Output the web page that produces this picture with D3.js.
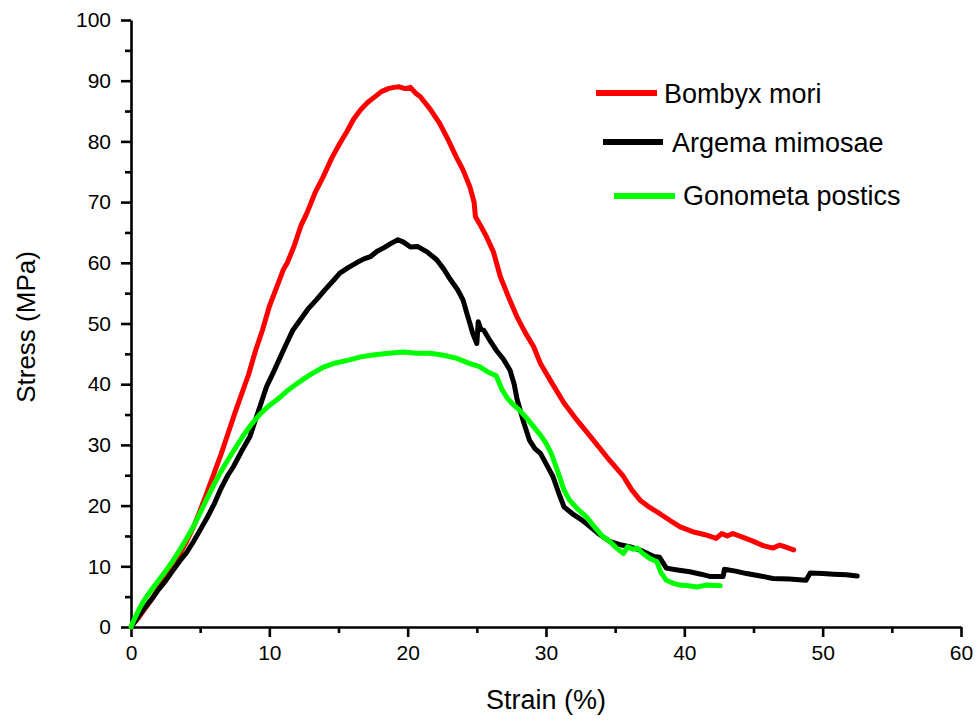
<!DOCTYPE html>
<html>
<head>
<meta charset="utf-8">
<script src="https://cdn.jsdelivr.net/npm/d3@7"></script>
<style>
  body { margin: 0; background: #fff; }
  svg { display: block; font-family: "Liberation Sans", Arial, sans-serif; }
</style>
</head>
<body>
<div id="vizContainer"></div>
<script>
// strain (%), stress (MPa)
const bombyxMori = [
  [0,0],[0.5,1.4],[1,3.0],[1.5,4.6],[2,6.4],[2.5,8.1],[3,10.0],[3.5,12.0],[4,14.0],[4.5,16.4],
  [5,19.2],[5.5,22.2],[6,25.3],[6.5,28.4],[7,31.8],[7.5,35.2],[8,38.4],[8.5,41.6],[9,45.5],[9.5,48.9],
  [10,52.8],[10.5,55.8],[11,58.8],[11.3,60.0],[11.8,62.8],[12.3,66.2],[12.7,68.1],[13.3,71.5],[13.9,74.2],
  [14.5,77.2],[15.1,79.7],[15.6,81.6],[16.1,83.7],[16.6,85.2],[17.1,86.4],[17.6,87.3],[18.1,88.2],
  [18.6,88.7],[19.0,88.9],[19.4,89.0],[19.8,88.7],[20.2,88.9],[20.6,87.9],[20.9,87.4],[21.6,85.4],
  [22.3,83.0],[22.9,80.4],[23.5,77.5],[24.0,75.3],[24.5,72.5],[24.8,70.0],[24.9,67.6],[25.3,66.0],
  [25.7,64.3],[26.2,61.8],[26.7,57.7],[27.3,54.3],[27.9,51.1],[28.5,48.5],[29.1,46.2],[29.6,43.4],
  [30.4,40.3],[31.3,36.9],[32.2,34.2],[33.2,31.4],[34.4,28.0],[35.6,24.8],[36.2,22.6],[36.8,20.9],
  [37.5,19.7],[38.2,18.7],[39.0,17.5],[39.7,16.5],[40.6,15.7],[41.5,15.2],[42.3,14.6],[42.7,15.4],
  [43.1,15.0],[43.5,15.4],[44.2,14.8],[45.0,14.1],[45.7,13.4],[46.4,13.0],[46.9,13.5],[47.4,13.1],[47.9,12.7]
];

const argemaMimosae = [
  [0,0],[0.5,1.6],[1,3.2],[1.5,4.6],[2,6.2],[2.5,7.6],[3,9.2],[3.5,10.8],[4,12.2],[4.5,14.0],
  [5,16.0],[5.5,18.0],[6,20.2],[6.5,22.8],[7,25.0],[7.4,26.4],[8,29.0],[8.6,31.4],[9.2,35.5],[9.8,39.6],
  [10.3,42.0],[10.8,44.5],[11.2,46.5],[11.7,48.9],[12.2,50.5],[12.8,52.4],[13.4,53.9],[14.0,55.5],
  [14.6,57.0],[15.1,58.3],[15.7,59.2],[16.3,60.0],[16.8,60.6],[17.3,61.0],[17.8,61.9],[18.3,62.5],
  [18.8,63.2],[19.3,63.8],[19.7,63.4],[20.2,62.6],[20.7,62.7],[21.4,61.8],[22.1,60.5],[22.6,59.0],
  [23.1,57.2],[23.6,55.6],[24.0,53.9],[24.3,51.5],[24.5,50.0],[24.7,48.4],[25.0,46.7],[25.1,50.3],
  [25.3,49.0],[25.5,48.9],[26.0,47.0],[26.4,45.6],[26.9,44.2],[27.4,42.3],[27.7,40.0],[27.9,37.6],
  [28.4,33.6],[28.8,30.8],[29.2,29.4],[29.6,28.6],[30.1,26.5],[30.5,24.8],[30.9,22.2],[31.3,19.8],
  [32.0,18.5],[32.6,17.6],[33.2,16.5],[33.9,15.2],[34.6,14.1],[35.3,13.6],[36.1,13.2],[37.0,12.5],
  [37.8,11.6],[38.2,11.5],[38.7,9.7],[39.5,9.4],[40.4,9.1],[41.2,8.7],[41.9,8.3],[42.8,8.3],[42.9,9.5],
  [43.7,9.2],[44.5,8.8],[45.5,8.4],[46.4,8.0],[47.6,7.9],[48.8,7.7],[49.1,8.9],[50.0,8.8],[50.8,8.7],
  [51.7,8.6],[52.5,8.4]
];

const gonometaPostics = [
  [0,0],[0.3,1.6],[0.6,3.0],[1,4.6],[1.5,6.2],[2,7.7],[2.5,9.2],[3,10.8],[3.5,12.6],[4,14.5],
  [4.5,16.5],[5,18.8],[5.5,21.2],[6,23.5],[6.5,25.6],[7,27.5],[7.6,29.7],[8.2,31.8],[8.7,33.4],
  [9.3,35.0],[10.0,36.5],[10.8,37.9],[11.4,39.1],[12.0,40.1],[12.9,41.5],[13.9,42.8],[14.8,43.5],
  [15.8,44.0],[16.6,44.5],[17.5,44.8],[18.6,45.1],[19.7,45.3],[20.6,45.1],[21.6,45.1],[22.5,44.8],
  [23.5,44.3],[24.5,43.4],[25.2,42.9],[25.8,42.0],[26.4,41.4],[26.8,39.2],[27.2,37.7],[27.6,36.7],
  [28.1,35.7],[28.6,34.4],[29.1,33.0],[29.6,31.6],[30.0,30.3],[30.4,28.5],[30.7,26.6],[31.0,24.6],
  [31.3,22.6],[31.7,20.9],[32.3,19.4],[32.9,18.2],[33.5,16.5],[34.1,14.9],[34.6,14.1],[35.1,13.0],
  [35.6,12.1],[35.9,13.2],[36.3,12.8],[36.6,13.0],[37.0,12.1],[37.5,11.3],[38.0,10.8],[38.3,9.0],
  [38.7,7.7],[39.2,7.2],[39.7,6.9],[40.3,6.8],[40.9,6.6],[41.6,6.9],[42.6,6.8]
];

const seriesNames = ["Bombyx mori", "Argema mimosae", "Gonometa postics"];
const seriesColors = ["#ff0000", "#000000", "#00ff00"];
const xTicks = [0, 10, 20, 30, 40, 50, 60];
const yTicks = [0, 10, 20, 30, 40, 50, 60, 70, 80, 90, 100];

const width = 978;
const height = 722;

const svg = d3.select("#vizContainer")
  .append("svg")
  .attr("width", width)
  .attr("height", height);

const x = d3.scaleLinear().domain([0, 60]).range([131, 961]);
const y = d3.scaleLinear().domain([0, 100]).range([627, 20]);

// minor ticks first, then the labelled major axis on top
svg.append("g")
  .attr("transform", "translate(0,627)")
  .call(d3.axisBottom(x).tickValues(d3.range(5, 60, 10)).tickSize(6).tickFormat(""))
  .call(g => g.select(".domain").remove());
svg.append("g")
  .attr("transform", "translate(131,0)")
  .call(d3.axisLeft(y).tickValues(d3.range(5, 100, 10)).tickSize(6).tickFormat(""))
  .call(g => g.select(".domain").remove());

const xAxis = svg.append("g")
  .attr("transform", "translate(0,627)")
  .call(d3.axisBottom(x).tickValues(xTicks).tickSize(10).tickSizeOuter(0).tickPadding(8));
const yAxis = svg.append("g")
  .attr("transform", "translate(131,0)")
  .call(d3.axisLeft(y).tickValues(yTicks).tickSize(10).tickSizeOuter(0).tickPadding(10));

svg.selectAll(".tick line, .domain").attr("stroke", "#000").attr("stroke-width", 2.6);
svg.selectAll(".tick text")
  .attr("font-size", 21)
  .attr("font-family", "'Liberation Sans', Arial, sans-serif")
  .attr("fill", "#000");

svg.append("text")
  .attr("x", 546)
  .attr("y", 709)
  .attr("text-anchor", "middle")
  .attr("font-size", 27)
  .text("Strain (%)");

svg.append("text")
  .attr("transform", "translate(35,327) rotate(-90)")
  .attr("text-anchor", "middle")
  .attr("font-size", 26)
  .text("Stress (MPa)");

const line = d3.line()
  .x(d => x(d[0]))
  .y(d => y(d[1]));

const allSeries = [bombyxMori, argemaMimosae, gonometaPostics];

svg.selectAll(".curve")
  .data(allSeries)
  .enter()
  .append("path")
  .attr("class", "curve")
  .attr("d", line)
  .attr("fill", "none")
  .attr("stroke", (d, i) => seriesColors[i])
  .attr("stroke-width", 5)
  .attr("stroke-linejoin", "round")
  .attr("stroke-linecap", "round");

// legend, each row nudged a bit to the right like the original
const legendRows = [
  { x1: 596, x2: 657, y: 93, tx: 664, ty: 103 },
  { x1: 603, x2: 663, y: 142, tx: 672, ty: 152 },
  { x1: 614, x2: 675, y: 196, tx: 683, ty: 205 }
];

const legend = svg.selectAll(".legend")
  .data(seriesNames)
  .enter()
  .append("g")
  .attr("class", "legend");

legend.append("line")
  .attr("x1", (d, i) => legendRows[i].x1)
  .attr("x2", (d, i) => legendRows[i].x2)
  .attr("y1", (d, i) => legendRows[i].y)
  .attr("y2", (d, i) => legendRows[i].y)
  .attr("stroke", (d, i) => seriesColors[i])
  .attr("stroke-width", 6);

legend.append("text")
  .attr("x", (d, i) => legendRows[i].tx)
  .attr("y", (d, i) => legendRows[i].ty)
  .attr("font-size", 27)
  .attr("fill", "#000")
  .text(d => d);
</script>
</body>
</html>
